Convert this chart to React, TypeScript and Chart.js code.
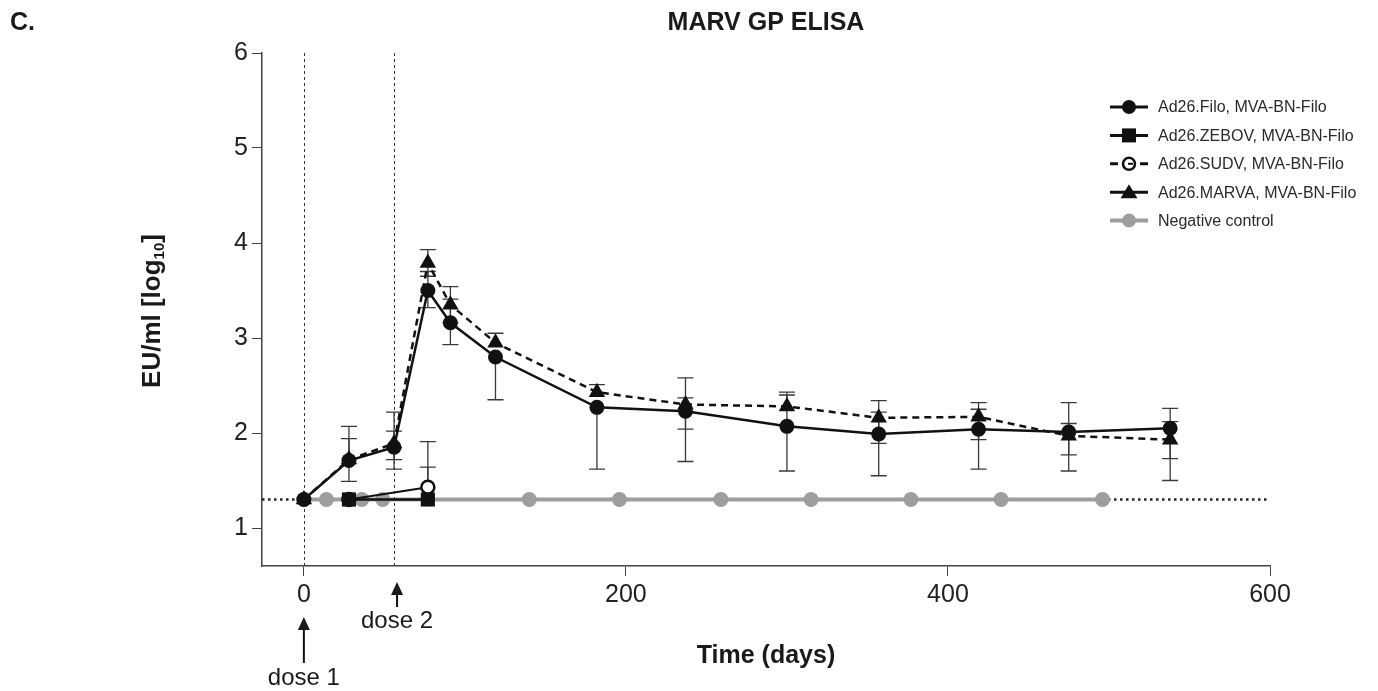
import { useEffect, useRef } from 'react';
import { Chart, registerables } from 'chart.js';

Chart.register(...registerables);

const FONT = '"Liberation Sans", Arial, Helvetica, sans-serif';

// ---------- data ----------
const seriesLabels = [
  'Ad26.Filo, MVA-BN-Filo',
  'Ad26.ZEBOV, MVA-BN-Filo',
  'Ad26.SUDV, MVA-BN-Filo',
  'Ad26.MARVA, MVA-BN-Filo',
  'Negative control',
];

const filoDays = [0, 28, 56, 77, 91, 119, 182, 237, 300, 357, 419, 475, 538];
const filoValues = [1.3, 1.71, 1.85, 3.5, 3.16, 2.8, 2.27, 2.23, 2.07, 1.99, 2.04, 2.01, 2.05];
const filoLower = [null, 1.49, 1.72, 3.32, 2.93, 2.35, 1.62, 1.7, 1.6, 1.55, 1.62, 1.6, 1.73];
const filoUpper = [null, 1.94, 2.02, 3.7, 3.41, null, null, 2.58, 2.4, 2.22, 2.25, 2.32, 2.26];

const marvaDays = [0, 28, 56, 77, 91, 119, 182, 237, 300, 357, 419, 475, 538];
const marvaValues = [1.3, 1.72, 1.89, 3.79, 3.35, 2.95, 2.43, 2.3, 2.28, 2.16, 2.17, 1.97, 1.93];
const marvaLower = [null, null, 1.62, 3.65, 3.16, null, null, 2.04, null, 1.89, 1.93, 1.77, 1.5];
const marvaUpper = [null, 2.07, 2.22, 3.93, 3.54, 3.05, 2.51, 2.37, 2.43, 2.34, 2.32, 2.1, 2.12];

const zebovDays = [28, 77];
const zebovValues = [1.3, 1.3];
const zebovLower = [null, null];
const zebovUpper = [null, 1.64];

const sudvDays = [28, 77];
const sudvValues = [1.3, 1.43];
const sudvLower = [null, null];
const sudvUpper = [null, 1.91];

const negDays = [0, 14, 36, 49, 140, 196, 259, 315, 377, 433, 496];
const negValues = [1.3, 1.3, 1.3, 1.3, 1.3, 1.3, 1.3, 1.3, 1.3, 1.3, 1.3];

const lloqDays = [-26, 600];
const lloqValues = [1.3, 1.3];

const doseDays = [0, 56];
const doseLabels = ['dose 1', 'dose 2'];

const xTicks = [0, 200, 400, 600];
const yTicks = [1, 2, 3, 4, 5, 6];

const chartTitle = 'MARV GP ELISA';
const panelLabel = 'C.';
const xTitle = 'Time (days)';

// ---------- helpers ----------
const pts = (days: number[], vals: number[]) => days.map((d, i) => ({ x: d, y: vals[i] }));

const errorSets = [
  { days: filoDays, values: filoValues, lower: filoLower, upper: filoUpper },
  { days: marvaDays, values: marvaValues, lower: marvaLower, upper: marvaUpper },
  { days: zebovDays, values: zebovValues, lower: zebovLower, upper: zebovUpper },
  { days: sudvDays, values: sudvValues, lower: sudvLower, upper: sudvUpper },
];

const GRAY = '#9e9e9e';

function drawMarker(ctx: CanvasRenderingContext2D, kind: string, x: number, y: number) {
  ctx.save();
  ctx.fillStyle = '#111';
  ctx.strokeStyle = '#111';
  if (kind === 'circle') {
    ctx.beginPath();
    ctx.arc(x, y, 7, 0, Math.PI * 2);
    ctx.fill();
  } else if (kind === 'rect') {
    ctx.fillRect(x - 7, y - 7, 14, 14);
  } else if (kind === 'open') {
    ctx.lineWidth = 2.5;
    ctx.fillStyle = '#fff';
    ctx.beginPath();
    ctx.arc(x, y, 6, 0, Math.PI * 2);
    ctx.fill();
    ctx.stroke();
    ctx.lineWidth = 2;
    ctx.beginPath();
    ctx.moveTo(x - 1, y);
    ctx.lineTo(x + 4, y);
    ctx.stroke();
  } else if (kind === 'triangle') {
    ctx.beginPath();
    ctx.moveTo(x, y - 8);
    ctx.lineTo(x + 8.5, y + 6);
    ctx.lineTo(x - 8.5, y + 6);
    ctx.closePath();
    ctx.fill();
  } else if (kind === 'gray') {
    ctx.fillStyle = GRAY;
    ctx.beginPath();
    ctx.arc(x, y, 7, 0, Math.PI * 2);
    ctx.fill();
  }
  ctx.restore();
}

const legendKinds = ['circle', 'rect', 'open', 'triangle', 'gray'];

const backgroundPlugin = {
  id: 'bgLines',
  beforeDatasetsDraw(chart: any) {
    const { ctx, chartArea, scales } = chart;
    const x = scales.x;
    ctx.save();
    ctx.strokeStyle = '#333';
    ctx.lineWidth = 1;
    ctx.setLineDash([3, 3]);
    doseDays.forEach((d) => {
      const px = Math.round(x.getPixelForValue(d)) + 0.5;
      ctx.beginPath();
      ctx.moveTo(px, chartArea.top);
      ctx.lineTo(px, chartArea.bottom);
      ctx.stroke();
    });
    ctx.setLineDash([]);
    // error bars
    const y = scales.y;
    ctx.strokeStyle = '#3a3a3a';
    ctx.lineWidth = 1.3;
    errorSets.forEach((set) => {
      set.days.forEach((d, i) => {
        const lo = set.lower[i];
        const hi = set.upper[i];
        if (lo == null && hi == null) return;
        const px = x.getPixelForValue(d);
        const yc = y.getPixelForValue(set.values[i]);
        const yl = lo == null ? yc : y.getPixelForValue(lo);
        const yh = hi == null ? yc : y.getPixelForValue(hi);
        ctx.beginPath();
        ctx.moveTo(px, yl);
        ctx.lineTo(px, yh);
        if (lo != null) {
          ctx.moveTo(px - 8, yl);
          ctx.lineTo(px + 8, yl);
        }
        if (hi != null) {
          ctx.moveTo(px - 8, yh);
          ctx.lineTo(px + 8, yh);
        }
        ctx.stroke();
      });
    });
    ctx.restore();
  },
};

const textPlugin = {
  id: 'texts',
  afterDraw(chart: any) {
    const { ctx, chartArea, scales } = chart;
    const x = scales.x;
    ctx.save();
    ctx.fillStyle = '#1a1a1a';
    ctx.textBaseline = 'middle';

    // panel label + title
    ctx.font = `bold 25px ${FONT}`;
    ctx.textAlign = 'left';
    ctx.fillText(panelLabel, 10, 23);
    ctx.textAlign = 'center';
    ctx.fillText(chartTitle, 766, 23);

    // x title
    ctx.font = `bold 25px ${FONT}`;
    ctx.fillText(xTitle, (chartArea.left + chartArea.right) / 2, 656);

    // y title with subscript
    ctx.save();
    ctx.translate(151, 311);
    ctx.rotate(-Math.PI / 2);
    const big = `bold 26px ${FONT}`;
    const small = `bold 15px ${FONT}`;
    ctx.font = big;
    const w1 = ctx.measureText('EU/ml [log').width;
    const w3 = ctx.measureText(']').width;
    ctx.font = small;
    const w2 = ctx.measureText('10').width;
    const total = w1 + w2 + w3;
    let cx = -total / 2;
    ctx.textAlign = 'left';
    ctx.textBaseline = 'alphabetic';
    ctx.font = big;
    ctx.fillText('EU/ml [log', cx, 9);
    cx += w1;
    ctx.font = small;
    ctx.fillText('10', cx, 13);
    cx += w2;
    ctx.font = big;
    ctx.fillText(']', cx, 9);
    ctx.restore();

    // dose annotations
    ctx.strokeStyle = '#111';
    ctx.fillStyle = '#1a1a1a';
    ctx.lineWidth = 2;
    ctx.textAlign = 'center';
    ctx.textBaseline = 'middle';
    ctx.font = `24px ${FONT}`;
    const arrowSpec = [
      { tip: 617, tail: 663, text: 678, off: 0 },
      { tip: 582, tail: 607, text: 621, off: 3 },
    ];
    doseDays.forEach((d, i) => {
      const s = arrowSpec[i];
      const px = x.getPixelForValue(d) + s.off;
      ctx.beginPath();
      ctx.moveTo(px, s.tail);
      ctx.lineTo(px, s.tip + 10);
      ctx.stroke();
      ctx.beginPath();
      ctx.moveTo(px, s.tip);
      ctx.lineTo(px + 6, s.tip + 13);
      ctx.lineTo(px - 6, s.tip + 13);
      ctx.closePath();
      ctx.fill();
      ctx.fillText(doseLabels[i], px, s.text);
    });

    // legend
    ctx.font = `16px ${FONT}`;
    ctx.textAlign = 'left';
    ctx.textBaseline = 'middle';
    seriesLabels.forEach((label, i) => {
      const ly = 107 + i * 28.4;
      const kind = legendKinds[i];
      ctx.save();
      ctx.lineWidth = kind === 'gray' ? 4 : 3;
      ctx.strokeStyle = kind === 'gray' ? GRAY : '#111';
      if (kind === 'open') {
        ctx.beginPath();
        ctx.moveTo(1110, ly);
        ctx.lineTo(1118, ly);
        ctx.moveTo(1140, ly);
        ctx.lineTo(1148, ly);
        ctx.stroke();
      } else {
        ctx.beginPath();
        ctx.moveTo(1110, ly);
        ctx.lineTo(1148, ly);
        ctx.stroke();
      }
      ctx.restore();
      drawMarker(ctx, kind, 1129, ly);
      ctx.fillStyle = '#2a2a2a';
      ctx.fillText(label, 1158, ly + 1);
    });

    ctx.restore();
  },
};

export default function App() {
  const ref = useRef<HTMLCanvasElement | null>(null);

  useEffect(() => {
    document.body.style.margin = '0';
    const canvas = ref.current;
    if (!canvas) return;

    const chart = new Chart(canvas, {
      type: 'line',
      data: {
        datasets: [
          {
            label: seriesLabels[0],
            data: pts(filoDays, filoValues),
            borderColor: '#111',
            backgroundColor: '#111',
            borderWidth: 2.5,
            pointStyle: 'circle',
            pointRadius: 7.5,
            pointBorderWidth: 0,
            pointBackgroundColor: '#111',
          },
          {
            label: seriesLabels[1],
            data: pts(zebovDays, zebovValues),
            borderColor: '#111',
            backgroundColor: '#111',
            borderWidth: 2.5,
            pointStyle: 'rect',
            pointRadius: 10,
            pointBorderWidth: 0,
            pointBackgroundColor: '#111',
          },
          {
            label: seriesLabels[2],
            data: pts(sudvDays, sudvValues),
            borderColor: '#111',
            backgroundColor: '#fff',
            borderWidth: 2,
            pointStyle: 'circle',
            pointRadius: 6.5,
            pointBorderWidth: 2.5,
            pointBorderColor: '#111',
            pointBackgroundColor: '#fff',
          },
          {
            label: seriesLabels[3],
            data: pts(marvaDays, marvaValues),
            borderColor: '#111',
            backgroundColor: '#111',
            borderWidth: 2.5,
            borderDash: [7, 5],
            pointStyle: 'triangle',
            pointRadius: 9.5,
            pointBorderWidth: 0,
            pointBackgroundColor: '#111',
          },
          {
            label: seriesLabels[4],
            data: pts(negDays, negValues),
            borderColor: GRAY,
            backgroundColor: GRAY,
            borderWidth: 4,
            pointStyle: 'circle',
            pointRadius: 7.5,
            pointBorderWidth: 0,
            pointBackgroundColor: GRAY,
          },
          {
            label: 'LLOQ',
            data: pts(lloqDays, lloqValues),
            borderColor: '#222',
            borderWidth: 2.5,
            borderDash: [2.5, 3.5],
            pointRadius: 0,
          },
        ],
      },
      options: {
        animation: false,
        responsive: false,
        devicePixelRatio: 1,
        layout: { padding: { top: 53, right: 108, left: 0, bottom: 0 } },
        plugins: {
          legend: { display: false },
          tooltip: { enabled: false },
          title: { display: false },
        },
        elements: { line: { tension: 0 } },
        scales: {
          x: {
            type: 'linear',
            min: -26,
            max: 600,
            afterBuildTicks: (s: any) => {
              s.ticks = xTicks.map((v) => ({ value: v }));
            },
            afterFit: (s: any) => {
              s.height = 125;
            },
            ticks: {
              font: { family: FONT, size: 25 },
              color: '#222',
              padding: 4,
              maxRotation: 0,
            },
            grid: {
              drawOnChartArea: false,
              drawTicks: true,
              tickLength: 10,
              color: '#444',
              lineWidth: 1,
            },
            border: { display: true, color: '#444', width: 1.5 },
          },
          y: {
            type: 'linear',
            min: 0.6,
            max: 6,
            afterBuildTicks: (s: any) => {
              s.ticks = yTicks.map((v) => ({ value: v }));
            },
            afterFit: (s: any) => {
              s.width = 262;
            },
            ticks: {
              font: { family: FONT, size: 25 },
              color: '#222',
              padding: 4,
            },
            grid: {
              drawOnChartArea: false,
              drawTicks: true,
              tickLength: 10,
              color: '#444',
              lineWidth: 1,
            },
            border: { display: true, color: '#444', width: 1.5 },
          },
        },
      },
      plugins: [backgroundPlugin, textPlugin],
    } as any);

    return () => chart.destroy();
  }, []);

  return (
    <div style={{ width: 1378, height: 691, background: '#fff' }}>
      <canvas ref={ref} width={1378} height={691} style={{ display: 'block' }} />
    </div>
  );
}
